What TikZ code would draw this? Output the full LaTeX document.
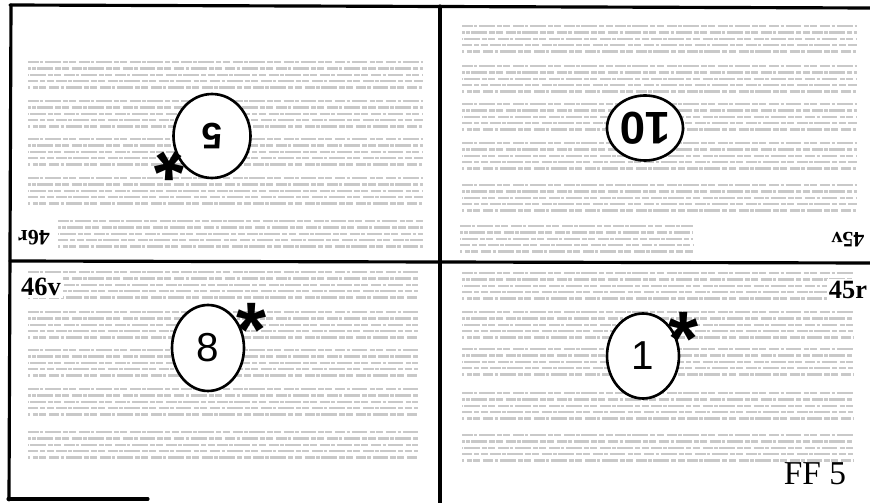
\documentclass[tikz,border=0pt]{standalone}
\usepackage{fontspec}
\setmainfont{Liberation Serif}
\setsansfont{Liberation Sans}
\usetikzlibrary{shapes.geometric,positioning}

% one block of five printed lines: x from, x to, top y
\newcommand{\lineblock}[3]{%
    \foreach \k in {0,...,4}
        \draw[textline, dash phase=\k*4.3] (#1,#3+\k*6.4) -- (#2,#3+\k*6.4);
}

\begin{document}
\begin{tikzpicture}[x=0.02cm, y=-0.02cm,
    frame/.style={line width=1.8pt, line cap=round},
    textline/.style={gray!42, line width=1.3pt,
        dash pattern=on 6pt off 0.7pt on 2pt off 0.9pt on 9pt off 1.2pt on 3pt off 0.7pt on 4pt off 1.6pt},
    disc/.style={ellipse, draw, fill=white, line width=1.5pt, inner sep=0pt},
    asterisk/.style={inner sep=0pt, font=\sffamily\bfseries\fontsize{44}{44}\selectfont},
    pagelab/.style={fill=white, inner sep=1pt}]
    \useasboundingbox (0,0) rectangle (870,503);

    % Printed lines, top left (46r)
    \lineblock{28}{423}{62}
    \lineblock{28}{423}{101}
    \lineblock{28}{423}{139}
    \lineblock{28}{423}{178}
    \lineblock{58}{423}{221}

    % Printed lines, top right (45v)
    \lineblock{462}{857}{26}
    \lineblock{462}{857}{66}
    \lineblock{462}{857}{104}
    \lineblock{462}{857}{143}
    \lineblock{462}{857}{185}
    \lineblock{460}{693}{226}

    % Printed lines, bottom left (46v)
    \lineblock{28}{418}{272}
    \lineblock{28}{418}{312}
    \lineblock{28}{418}{350}
    \lineblock{28}{418}{389}
    \lineblock{28}{418}{432}

    % Printed lines, bottom right (45r)
    \lineblock{462}{853}{273}
    \lineblock{462}{853}{312}
    \lineblock{462}{853}{349}
    \lineblock{462}{853}{393}
    \lineblock{462}{853}{435}

    % Fold lines
    \draw[frame] (10,5) -- (870,8);
    \draw[frame] (11,5) -- (9,500);
    \draw[frame] (440,6) -- (440,503);
    \draw[frame] (10,261) -- (870,263);
    \draw[frame] (8,499) -- (148,499);

    % Page numbers in circles
    \node[disc, minimum width=1.54cm, minimum height=1.68cm, rotate=180,
        font=\sffamily\bfseries\fontsize{21}{21}\selectfont] (c5) at (212,136) {5};
    \node[disc, minimum width=1.52cm, minimum height=1.30cm, rotate=180,
        font=\sffamily\bfseries\fontsize{26}{26}\selectfont] (c10) at (645,128) {10};
    \node[disc, minimum width=1.44cm, minimum height=1.72cm,
        font=\sffamily\fontsize{23}{23}\selectfont] (c8) at (208,348) {8};
    \node[disc, minimum width=1.44cm, minimum height=1.70cm,
        font=\sffamily\fontsize{23}{23}\selectfont] (c1) at (643,356) {1};

    % Stars
    \node[asterisk, rotate=180] (s5) at (169,172) {\raisebox{-0.58em}[0pt][0pt]{*}};
    \node[asterisk] (s8) at (252,312) {\raisebox{-0.58em}[0pt][0pt]{*}};
    \node[asterisk] (s1) at (684,321) {\raisebox{-0.58em}[0pt][0pt]{*}};

    % Leaf labels
    \node[pagelab, rotate=180, font=\bfseries\fontsize{12.5}{12.5}\selectfont] (l46r) at (34,238) {46r};
    \node[pagelab, rotate=180, font=\bfseries\fontsize{12.5}{12.5}\selectfont] (l45v) at (848,240) {45v};
    \node[pagelab, font=\bfseries\fontsize{15}{15}\selectfont] (l46v) at (41,287) {46v};
    \node[pagelab, font=\bfseries\fontsize{15}{15}\selectfont] (l45r) at (848,290) {45r};
    \node[font=\fontsize{19}{19}\selectfont] (ff) at (815,474) {FF 5};
\end{tikzpicture}
\end{document}
